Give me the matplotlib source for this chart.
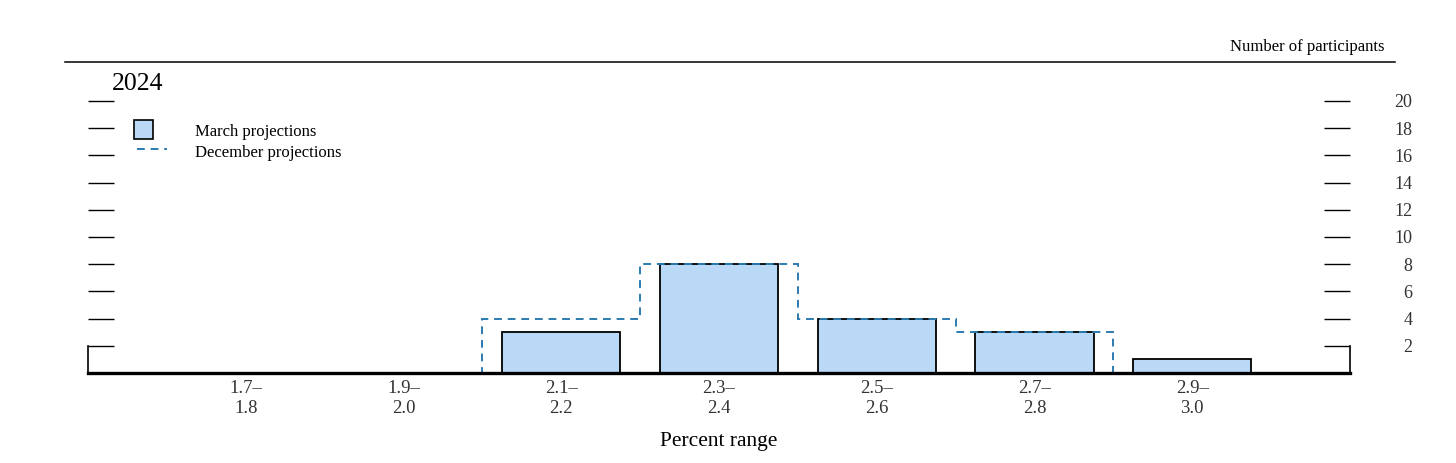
import matplotlib
matplotlib.use("Agg")
import matplotlib.pyplot as plt
import numpy as np
from matplotlib.lines import Line2D
from matplotlib.patches import Rectangle

categories = ["1.7\u2013\n1.8", "1.9\u2013\n2.0", "2.1\u2013\n2.2", "2.3\u2013\n2.4",
              "2.5\u2013\n2.6", "2.7\u2013\n2.8", "2.9\u2013\n3.0"]
march = [0, 0, 3, 8, 4, 3, 1]
december = [0, 0, 4, 8, 4, 3, 0]
yticks = [2, 4, 6, 8, 10, 12, 14, 16, 18, 20]

plt.rcParams['font.family'] = ['Liberation Serif', 'DejaVu Serif']

W, H = 1456, 463
fig = plt.figure(figsize=(W / 100, H / 100), dpi=100)
ax = fig.add_axes([88 / W, (H - 373) / H, 1262 / W, (373 - 73.8) / H])

x = np.arange(len(categories))
bar_color = "#BAD9F6"
dash_color = "#2B7BB0"

ax.bar(x, march, width=0.75, color=bar_color, edgecolor="black", linewidth=1.3, zorder=2)
edges = np.arange(len(categories) + 1) - 0.5
ax.stairs(december, edges, baseline=0, fill=False, color=dash_color,
          linewidth=1.4, linestyle=(0, (4, 3)), zorder=3)

ax.set_xlim(-1, 7)
ax.set_ylim(0, 22)

ax.set_xticks(x)
ax.set_xticklabels(categories, fontsize=13.5, color="#333333", linespacing=1.2)
ax.tick_params(axis='x', length=0, pad=5)

ax.set_yticks(yticks)
ax.tick_params(axis='y', which='both', direction='in', length=18.5, width=1.0,
               left=True, right=True, labelleft=False, labelright=True,
               labelsize=13, labelcolor="#333333", pad=45)
for lbl in ax.get_yticklabels():
    lbl.set_horizontalalignment('right')

ax.spines['top'].set_visible(False)
ax.spines['left'].set_bounds(0, 2)
ax.spines['right'].set_bounds(0, 2)
ax.spines['left'].set_linewidth(1.2)
ax.spines['right'].set_linewidth(1.2)
ax.spines['bottom'].set_linewidth(2.4)
ax.spines['bottom'].set_zorder(4)

ax.set_xlabel("Percent range", fontsize=15.5, labelpad=11)

# top rule
fig.add_artist(Line2D([65 / W, 1395 / W], [(H - 62) / H, (H - 62) / H],
                      color="black", linewidth=1.1))
fig.text(1385 / W, (H - 47) / H, "Number of participants", ha="right", va="center",
         fontsize=12)
fig.text(112 / W, (H - 84) / H, "2024", ha="left", va="center", fontsize=18.5)

# legend
fig.add_artist(Rectangle((134 / W, (H - 139) / H), 19 / W, 19 / H,
                         facecolor=bar_color, edgecolor="black", linewidth=1.2))
fig.text(195 / W, (H - 132) / H, "March projections", ha="left", va="center", fontsize=12)
fig.add_artist(Line2D([137 / W, 167 / W], [(H - 149) / H, (H - 149) / H],
                      color=dash_color, linewidth=1.4, linestyle=(0, (4, 3))))
fig.text(195 / W, (H - 153) / H, "December projections", ha="left", va="center", fontsize=12)

fig.savefig("out.png", dpi=100)
